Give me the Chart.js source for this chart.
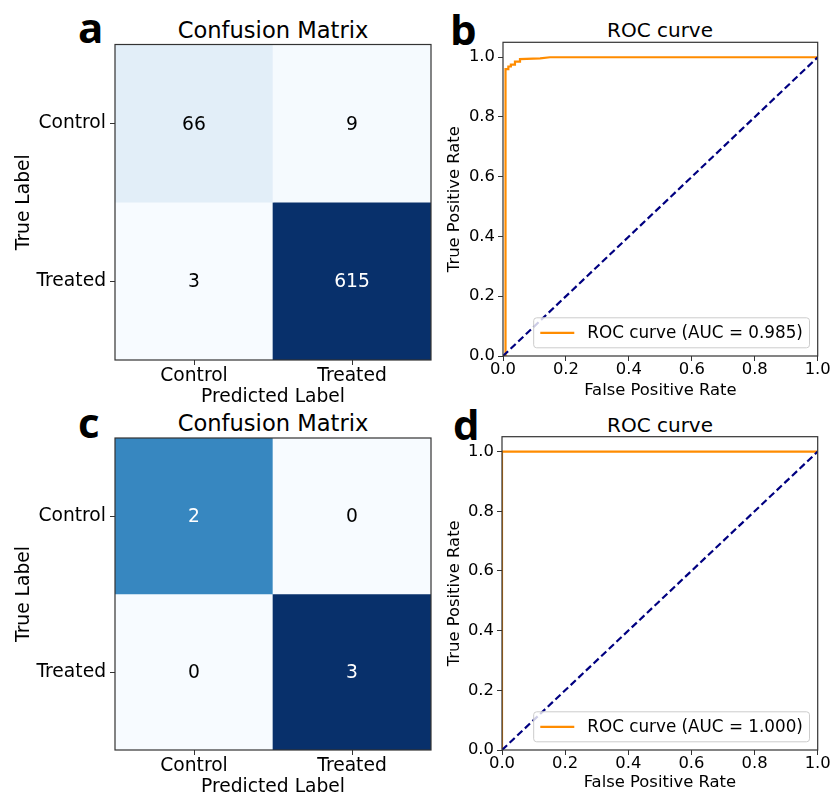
<!DOCTYPE html>
<html>
<head>
<meta charset="utf-8">
<script src="https://cdn.jsdelivr.net/npm/chart.js@4.4.1/dist/chart.umd.min.js"></script>
<style>
  html, body { margin: 0; padding: 0; background: #fff; overflow: hidden; width: 834px; height: 795px; }
  canvas { position: absolute; }
  .txt { position: absolute; font-family: 'DejaVu Sans'; color: #000; line-height: 1; white-space: nowrap; text-align: center; }
  .letter { position: absolute; font-family: 'Open Sans'; font-weight: 700; font-size: 42px; line-height: 1; color: #000; }
</style>
</head>
<body>
<div class="letter" style="left:78px;top:6px">a</div>
<div class="letter" style="left:450px;top:8px">b</div>
<div class="letter" style="left:78px;top:401px">c</div>
<div class="letter" style="left:453px;top:403px">d</div>

<div class="txt" style="left:123px;width:300px;top:19.4px;font-size:22.6px">Confusion Matrix</div>
<div class="txt" style="left:123px;width:300px;top:412.4px;font-size:22.6px">Confusion Matrix</div>
<div class="txt" style="left:510px;width:300px;top:20.4px;font-size:20px">ROC curve</div>
<div class="txt" style="left:510px;width:300px;top:414.8px;font-size:20px">ROC curve</div>

<canvas id="cmA" width="440" height="410" style="left:0;top:0"></canvas>
<canvas id="rocB" width="404" height="401" style="left:430px;top:0"></canvas>
<canvas id="cmC" width="440" height="400" style="left:0;top:400px"></canvas>
<canvas id="rocD" width="404" height="400" style="left:430px;top:400px"></canvas>

<script>
// class labels used on both axes of the confusion matrices
const classLabels = ['Control', 'Treated'];

// confusion matrices, rows = true label, columns = predicted label
const cmA = [[66, 9], [3, 615]];
const cmC = [[2, 0], [0, 3]];

// ROC curves (false positive rate / true positive rate)
const fprB = [0, 0.008, 0.008, 0.017, 0.017, 0.025, 0.025, 0.038, 0.038, 0.054, 0.054, 0.118, 0.149, 1.0];
const tprB = [0, 0, 0.96, 0.96, 0.969, 0.969, 0.975, 0.975, 0.985, 0.985, 0.994, 0.996, 1.0, 1.0];
const fprD = [0, 0, 1.0];
const tprD = [0, 1.0, 1.0];
const chanceLine = [0, 1];

const aucB = 'ROC curve (AUC = 0.985)';
const aucD = 'ROC curve (AUC = 1.000)';

const rocTicks = [0, 0.2, 0.4, 0.6, 0.8, 1.0];

const FONT = 'DejaVu Sans';

// matplotlib "Blues" colormap
const BLUES = [[247,251,255],[222,235,247],[198,219,239],[158,202,225],[107,174,214],[66,146,198],[33,113,181],[8,81,156],[8,48,107]];
function blues(t) {
  t = Math.min(1, Math.max(0, t)) * 8;
  const i = Math.min(7, Math.floor(t));
  const f = t - i;
  const a = BLUES[i], b = BLUES[i + 1];
  return 'rgb(' + a.map((v, k) => Math.round(v + (b[k] - v) * f)).join(',') + ')';
}

const framePlugin = {
  id: 'frame',
  afterDatasetsDraw(chart) {
    const { ctx, chartArea: a } = chart;
    ctx.save();
    ctx.strokeStyle = '#333';
    ctx.lineWidth = 1.2;
    ctx.strokeRect(a.left, a.top, a.right - a.left, a.bottom - a.top);
    ctx.restore();
  }
};

const cellText = {
  id: 'cellText',
  afterDatasetsDraw(chart, args, opts) {
    const m = opts.matrix;
    if (!m) return;
    const max = Math.max(...m.flat());
    const ctx = chart.ctx;
    ctx.save();
    ctx.font = '18.7px "' + FONT + '"';
    ctx.textAlign = 'center';
    ctx.textBaseline = 'middle';
    m.forEach((row, r) => row.forEach((v, c) => {
      const bar = chart.getDatasetMeta(r).data[c];
      ctx.fillStyle = v > max / 2 ? '#fff' : '#000';
      ctx.fillText(String(v), bar.x, (bar.y + bar.base) / 2 + 1.5);
    }));
    ctx.restore();
  }
};

const rocLegend = {
  id: 'rocLegend',
  afterDatasetsDraw(chart) {
    const ds = chart.data.datasets[0];
    const { ctx, chartArea: a } = chart;
    const fs = 16.8;
    ctx.save();
    ctx.font = fs + 'px "' + FONT + '"';
    const tw = ctx.measureText(ds.label).width;
    const pad = 6.6, handle = 34, gap = 13;
    const w = pad + handle + gap + tw + pad, h = 30;
    const x = a.right - 8.2 - w, y = a.bottom - 8.2 - h;
    ctx.beginPath();
    ctx.roundRect(x, y, w, h, 3);
    ctx.fillStyle = 'rgba(255,255,255,0.8)';
    ctx.fill();
    ctx.strokeStyle = '#cccccc';
    ctx.lineWidth = 1;
    ctx.stroke();
    ctx.strokeStyle = ds.borderColor;
    ctx.lineWidth = ds.borderWidth;
    ctx.beginPath();
    ctx.moveTo(x + pad, y + h / 2);
    ctx.lineTo(x + pad + handle, y + h / 2);
    ctx.stroke();
    ctx.fillStyle = '#000';
    ctx.textBaseline = 'middle';
    ctx.fillText(ds.label, x + pad + handle + gap, y + h / 2 + 1);
    ctx.restore();
  }
};

function tickFont(size) {
  return { family: FONT, size: size, lineHeight: 1 };
}

function heatmap(id, matrix, geo) {
  const flat = matrix.flat();
  const lo = Math.min(...flat), hi = Math.max(...flat);
  new Chart(document.getElementById(id), {
    type: 'bar',
    data: {
      labels: classLabels,
      datasets: matrix.map((row, r) => ({
        data: row.map(() => [r, r + 1]),
        backgroundColor: row.map(v => blues((v - lo) / (hi - lo))),
        borderWidth: 0,
        grouped: false,
        barPercentage: 1,
        categoryPercentage: 1
      }))
    },
    options: {
      responsive: false,
      animation: false,
      layout: { padding: { top: geo.top, right: geo.right, left: 0, bottom: 0 } },
      plugins: {
        legend: { display: false },
        tooltip: { enabled: false },
        cellText: { matrix: matrix }
      },
      scales: {
        x: {
          grid: { offset: false, drawOnChartArea: false, tickLength: 5, color: '#333' },
          border: { display: false },
          ticks: { color: '#000', font: tickFont(18.7), padding: 2 },
          title: { display: true, text: 'Predicted Label', color: '#000', font: { family: FONT, size: 18.7 }, padding: { top: 0, bottom: geo.xTitlePad } },
          afterFit: s => { s.height = geo.xAxis; }
        },
        y: {
          min: 0, max: 2, reverse: true,
          afterBuildTicks: s => { s.ticks = classLabels.map((_, i) => ({ value: i + 0.5 })); },
          grid: { drawOnChartArea: false, tickLength: 5, color: '#333' },
          border: { display: false },
          ticks: { color: '#000', font: tickFont(18.7), padding: 4, callback: (v, i) => classLabels[i] },
          title: { display: true, text: 'True Label', color: '#000', font: { family: FONT, size: 18.7 }, padding: { top: geo.yTitlePad, bottom: 0 } },
          afterFit: s => { s.width = geo.yAxis; }
        }
      }
    },
    plugins: [cellText, framePlugin]
  });
}

function roc(id, fpr, tpr, label, geo) {
  new Chart(document.getElementById(id), {
    type: 'line',
    data: {
      datasets: [
        {
          label: label,
          data: fpr.map((x, i) => ({ x: x, y: tpr[i] })),
          borderColor: '#ff8c00',
          borderWidth: 2.2,
          pointRadius: 0,
          tension: 0,
          clip: 0,
          order: 1
        },
        {
          label: 'chance',
          data: chanceLine.map(v => ({ x: v, y: v })),
          borderColor: '#000080',
          borderWidth: 2.2,
          borderDash: [7, 3.5],
          pointRadius: 0,
          clip: 0,
          order: 0
        }
      ]
    },
    options: {
      responsive: false,
      animation: false,
      layout: { padding: { top: geo.top, right: geo.right, left: 0, bottom: 0 } },
      plugins: { legend: { display: false }, tooltip: { enabled: false } },
      scales: {
        x: {
          type: 'linear', min: 0, max: 1,
          afterBuildTicks: s => { s.ticks = rocTicks.map(v => ({ value: v })); },
          grid: { drawOnChartArea: false, tickLength: 5, color: '#333' },
          border: { display: false },
          ticks: { color: '#000', font: tickFont(16.4), padding: 1, maxRotation: 0, autoSkip: false, callback: v => v.toFixed(1) },
          title: { display: true, text: 'False Positive Rate', color: '#000', font: { family: FONT, size: 16.4 }, padding: { top: 0, bottom: geo.xTitlePad } },
          afterFit: s => { s.height = geo.xAxis; }
        },
        y: {
          type: 'linear', min: 0, max: 1.05,
          afterBuildTicks: s => { s.ticks = rocTicks.map(v => ({ value: v })); },
          grid: { drawOnChartArea: false, tickLength: 5, color: '#333' },
          border: { display: false },
          ticks: { color: '#000', font: tickFont(16.4), padding: 3, autoSkip: false, callback: v => v.toFixed(1) },
          title: { display: true, text: 'True Positive Rate', color: '#000', font: { family: FONT, size: 16.4 }, padding: { top: geo.yTitlePad, bottom: 0 } },
          afterFit: s => { s.width = geo.yAxis; }
        }
      }
    },
    plugins: [framePlugin, rocLegend]
  });
}

heatmap('cmA', cmA, { top: 44.5, right: 9, yAxis: 115, xAxis: 50, xTitlePad: 1.8, yTitlePad: 12.8 });
heatmap('cmC', cmC, { top: 38, right: 9, yAxis: 115, xAxis: 50, xTitlePad: 1.8, yTitlePad: 12.8 });
roc('rocB', fprB, tprB, aucB, { top: 42.3, right: 16.3, yAxis: 73, xAxis: 45, xTitlePad: 0.2, yTitlePad: 15.2 });
roc('rocD', fprD, tprD, aucD, { top: 36.7, right: 16.3, yAxis: 72, xAxis: 50, xTitlePad: 7.2, yTitlePad: 15.2 });
</script>
</body>
</html>
